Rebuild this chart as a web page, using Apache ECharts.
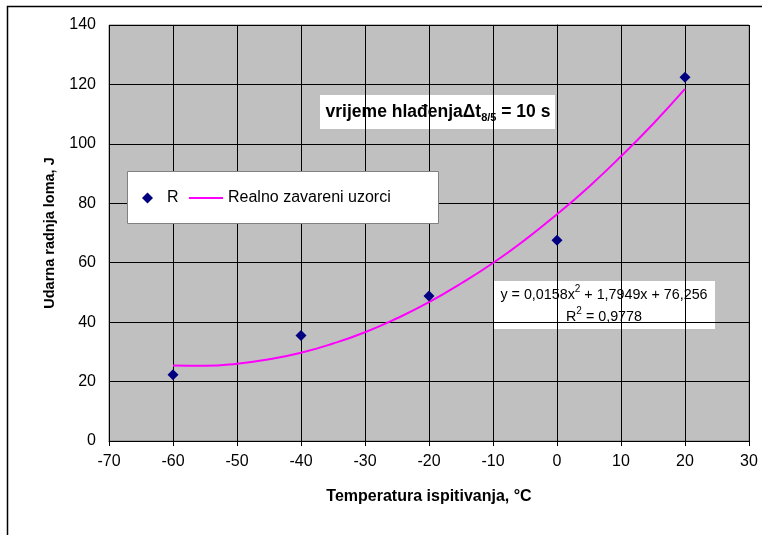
<!DOCTYPE html>
<html>
<head>
<meta charset="utf-8">
<script src="https://cdn.jsdelivr.net/npm/echarts@6/dist/echarts.min.js"></script>
<style>html,body{margin:0;padding:0;background:#fff}#c{width:762px;height:535px}</style>
</head>
<body>
<div id="c"></div>
<script>
// Measured points (temperature °C, impact energy J)
var temps = [-60, -40, -20, 0, 20];
var energy = [22.3, 35.5, 48.8, 67.6, 122.4];
// Trend curve
var trendX = [-60, -55, -50, -45, -40, -35, -30, -25, -20, -15, -10, -5, 0, 5, 10, 15, 20];
var trendY = [25.4, 25.3, 26.0, 27.5, 29.7, 32.8, 36.6, 41.3, 46.7, 53.0, 59.9, 67.7, 76.3, 85.6, 95.8, 106.7, 118.5];
var xTicks = {min: -70, max: 30, interval: 10};
var yTicks = {min: 0, max: 140, interval: 20};
var seriesNames = ['R', 'Realno zavareni uzorci'];
var xName = 'Temperatura ispitivanja, °C';
var yName = 'Udarna radnja loma, J';

var FONT = 'Liberation Sans, Arial, sans-serif';
var chart = echarts.init(document.getElementById('c'), null, {renderer: 'canvas'});
chart.setOption({
  animation: false,
  backgroundColor: '#fff',
  textStyle: {fontFamily: FONT},
  grid: {left: 109, right: 13, top: 25, bottom: 94, show: true, backgroundColor: '#c0c0c0', borderColor: '#808080', borderWidth: 1},
  legend: [
    {
      left: 142, top: 190, padding: 0,
      data: [{name: seriesNames[0], icon: 'diamond'}],
      itemWidth: 11, itemHeight: 11,
      textStyle: {fontFamily: FONT, fontSize: 16, color: '#000', padding: [0, 0, 0, 9]}
    },
    {
      left: 189, top: 190, padding: 0,
      data: [{name: seriesNames[1], icon: 'rect'}],
      itemWidth: 34, itemHeight: 2,
      textStyle: {fontFamily: FONT, fontSize: 16, color: '#000'}
    }
  ],
  xAxis: {
    type: 'value', min: xTicks.min, max: xTicks.max, interval: xTicks.interval,
    name: xName, nameLocation: 'middle', nameGap: 48,
    nameTextStyle: {fontFamily: FONT, fontSize: 16, fontWeight: 'bold', color: '#000'},
    axisLine: {show: true, lineStyle: {color: '#000', width: 1}},
    axisTick: {show: true, inside: false, length: 5, lineStyle: {color: '#000'}},
    axisLabel: {fontFamily: FONT, fontSize: 16, color: '#000', margin: 13},
    splitLine: {show: true, lineStyle: {color: '#000', width: 1}}
  },
  yAxis: {
    type: 'value', min: yTicks.min, max: yTicks.max, interval: yTicks.interval,
    name: yName, nameLocation: 'middle', nameGap: 52,
    nameTextStyle: {fontFamily: FONT, fontSize: 14.5, fontWeight: 'bold', color: '#000'},
    axisLine: {show: true, lineStyle: {color: '#000', width: 1}},
    axisTick: {show: true, inside: false, length: 5, lineStyle: {color: '#000'}},
    axisLabel: {fontFamily: FONT, fontSize: 16, color: '#000', margin: 13},
    splitLine: {show: true, lineStyle: {color: '#000', width: 1}}
  },
  series: [
    {
      name: seriesNames[0], type: 'scatter', symbol: 'diamond', symbolSize: 11,
      itemStyle: {color: '#000080', opacity: 1}, z: 5,
      data: temps.map(function (t, i) { return [t, energy[i]]; })
    },
    {
      name: seriesNames[1], type: 'line', smooth: true, symbol: 'none', showSymbol: false,
      lineStyle: {color: '#ff00ff', width: 2}, itemStyle: {color: '#ff00ff'}, z: 4,
      data: trendX.map(function (t, i) { return [t, trendY[i]]; })
    }
  ],
  graphic: [
    {type: 'rect', left: 5, top: 4, z: -10, silent: true,
     shape: {width: 800, height: 600}, style: {fill: 'none', stroke: '#000', lineWidth: 1.5}},
    {type: 'rect', left: 127, top: 171, z: 1, silent: true,
     shape: {width: 311, height: 52}, style: {fill: '#fff', stroke: '#808080', lineWidth: 1}},
    {type: 'group', left: 320, top: 95, z: 50, children: [
      {type: 'rect', shape: {x: 0, y: 0, width: 235, height: 34}, style: {fill: '#fff'}},
      {type: 'text', x: 118, y: 17, style: {
        text: '{b|vrijeme hlađenja}{b|Δt}{s|8/5}{b| = 10 s}',
        align: 'center', verticalAlign: 'middle',
        rich: {
          b: {fontFamily: FONT, fontSize: 17.5, fontWeight: 'bold', color: '#000', lineHeight: 22},
          s: {fontFamily: FONT, fontSize: 11, fontWeight: 'bold', color: '#000', lineHeight: 12, verticalAlign: 'bottom'}
        }
      }}
    ]},
    {type: 'group', left: 493, top: 281, z: 50, children: [
      {type: 'rect', shape: {x: 0, y: 0, width: 222, height: 48}, style: {fill: '#fff'}},
      {type: 'text', x: 111, y: 25, style: {
        text: '{n|y = 0,0158x}{p|2}{n| + 1,7949x + 76,256}\n{n|R}{p|2}{n| = 0,9778}',
        align: 'center', verticalAlign: 'middle',
        rich: {
          n: {fontFamily: FONT, fontSize: 14.3, color: '#000', lineHeight: 22},
          p: {fontFamily: FONT, fontSize: 10, color: '#000', lineHeight: 16, verticalAlign: 'top'}
        }
      }}
    ]}
  ]
});
</script>
</body>
</html>
